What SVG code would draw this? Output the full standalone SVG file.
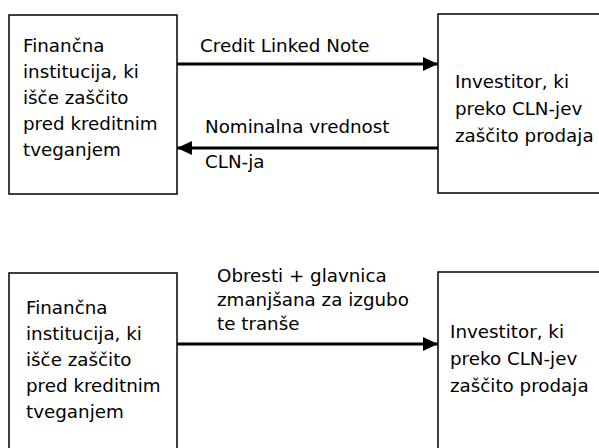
<svg xmlns="http://www.w3.org/2000/svg" width="599" height="448" viewBox="0 0 599 448">
  <style>
    .box { fill: #ffffff; stroke: #000000; stroke-width: 1.5; }
    .txt { font-family: "DejaVu Sans", Verdana, sans-serif; font-size: 18.3px; fill: #000000; }
    .link { stroke: #000000; stroke-width: 3; fill: none; }
  </style>
  <defs>
    <marker id="head" markerUnits="userSpaceOnUse" markerWidth="16" markerHeight="14" refX="15" refY="7" orient="auto">
      <path d="M0,0 L15,7 L0,14 Z" fill="#000000"/>
    </marker>
  </defs>
  <rect x="0" y="0" width="599" height="448" fill="#ffffff"/>

  <!-- top scheme: issuing the note -->
  <g id="bank-top">
    <rect class="box" x="9" y="15" width="168" height="179"/>
    <text class="txt" x="23" y="52">Finančna</text>
    <text class="txt" x="23" y="78">institucija, ki</text>
    <text class="txt" x="23" y="104">išče zaščito</text>
    <text class="txt" x="23" y="130">pred kreditnim</text>
    <text class="txt" x="23" y="156">tveganjem</text>
  </g>
  <g id="investor-top">
    <rect class="box" x="438" y="14" width="200" height="179"/>
    <text class="txt" x="455" y="88">Investitor, ki</text>
    <text class="txt" x="455" y="115">preko CLN-jev</text>
    <text class="txt" x="455" y="142">zaščito prodaja</text>
  </g>

  <!-- bottom scheme: repayment -->
  <g id="bank-bottom">
    <rect class="box" x="9" y="273" width="168" height="200"/>
    <text class="txt" x="26" y="314">Finančna</text>
    <text class="txt" x="26" y="340">institucija, ki</text>
    <text class="txt" x="26" y="366">išče zaščito</text>
    <text class="txt" x="26" y="392">pred kreditnim</text>
    <text class="txt" x="26" y="418">tveganjem</text>
  </g>
  <g id="investor-bottom">
    <rect class="box" x="438" y="272" width="200" height="200"/>
    <text class="txt" x="450" y="338">Investitor, ki</text>
    <text class="txt" x="450" y="365">preko CLN-jev</text>
    <text class="txt" x="450" y="392">zaščito prodaja</text>
  </g>

  <g id="connectors">
    <line class="link" x1="177" y1="64" x2="438" y2="64" marker-end="url(#head)"/>
    <text class="txt" x="200" y="52">Credit Linked Note</text>

    <line class="link" x1="438" y1="148" x2="177" y2="148" marker-end="url(#head)"/>
    <text class="txt" x="205" y="133">Nominalna vrednost</text>
    <text class="txt" x="205" y="168">CLN-ja</text>

    <line class="link" x1="177" y1="344" x2="438" y2="344" marker-end="url(#head)"/>
    <text class="txt" x="217" y="282">Obresti + glavnica</text>
    <text class="txt" x="217" y="306">zmanjšana za izgubo</text>
    <text class="txt" x="217" y="330">te tranše</text>
  </g>
</svg>
